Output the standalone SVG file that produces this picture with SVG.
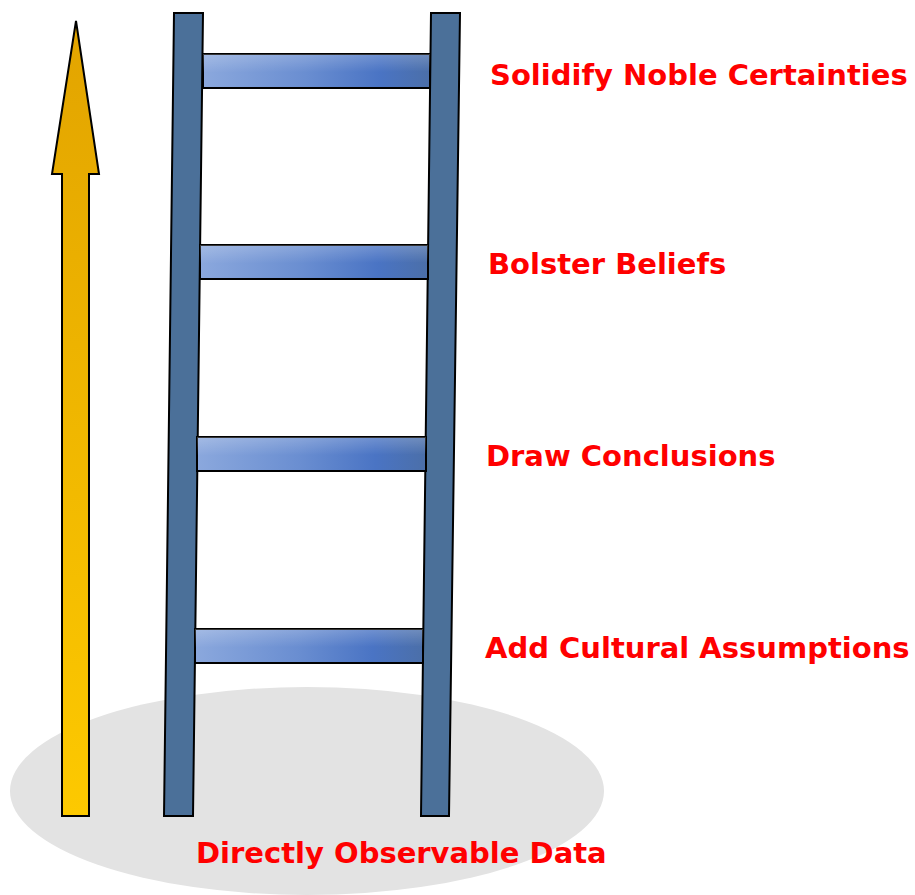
<svg xmlns="http://www.w3.org/2000/svg" width="915" height="895" viewBox="0 0 915 895">
  <defs>
    <linearGradient id="arrowFill" x1="0" y1="0" x2="0" y2="1">
      <stop offset="0" stop-color="#e2a400"/>
      <stop offset="1" stop-color="#fdc900"/>
    </linearGradient>
    <linearGradient id="rungFill" x1="0" y1="0" x2="1" y2="0">
      <stop offset="0" stop-color="#8ba8dd"/>
      <stop offset="0.45" stop-color="#6a8ed1"/>
      <stop offset="0.78" stop-color="#4a74c4"/>
      <stop offset="1" stop-color="#4b6fa9"/>
    </linearGradient>
    <linearGradient id="rungShine" x1="0" y1="0" x2="0.03" y2="1">
      <stop offset="0" stop-color="#ffffff" stop-opacity="0.22"/>
      <stop offset="0.55" stop-color="#ffffff" stop-opacity="0"/>
    </linearGradient>
    <style>
      .rail { fill: #4b7099; stroke: #000; stroke-width: 2; stroke-linejoin: miter; }
      .rung { fill: url(#rungFill); stroke: #000; stroke-width: 2; }
      .shine { fill: url(#rungShine); }
      .label { font-family: "DejaVu Sans", Verdana, sans-serif; font-weight: bold; font-size: 29px; fill: #ff0000; }
    </style>
  </defs>

  <!-- ground -->
  <g id="ground">
    <ellipse cx="307" cy="791" rx="297" ry="104" fill="#e3e3e3"/>
  </g>

  <!-- upward arrow -->
  <g id="arrow">
    <polygon points="76,21 99,174 89,174 89,816 62,816 62,174 52,174" fill="url(#arrowFill)" stroke="#000" stroke-width="2"/>
  </g>

  <!-- ladder -->
  <g id="ladder">
    <polygon class="rail" points="174,13 203,13 193,816 164,816"/>
    <polygon class="rail" points="431,13 460,13 449,816 421,816"/>
    <g id="rung1"><rect class="rung" x="203" y="54" width="227" height="34"/><rect class="shine" x="203" y="54" width="227" height="34"/></g>
    <g id="rung2"><rect class="rung" x="200" y="245" width="228" height="34"/><rect class="shine" x="200" y="245" width="228" height="34"/></g>
    <g id="rung3"><rect class="rung" x="197" y="437" width="229" height="34"/><rect class="shine" x="197" y="437" width="229" height="34"/></g>
    <g id="rung4"><rect class="rung" x="195" y="629" width="228" height="34"/><rect class="shine" x="195" y="629" width="228" height="34"/></g>
  </g>

  <!-- labels -->
  <g id="labels">
    <text class="label" x="490" y="85">Solidify Noble Certainties</text>
    <text class="label" x="488" y="274">Bolster Beliefs</text>
    <text class="label" x="486" y="466">Draw Conclusions</text>
    <text class="label" x="485" y="658">Add Cultural Assumptions</text>
    <text class="label" x="196" y="863">Directly Observable Data</text>
  </g>
</svg>
